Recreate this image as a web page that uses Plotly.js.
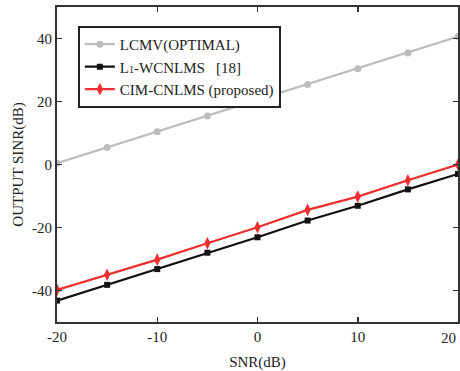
<!DOCTYPE html>
<html><head><meta charset="utf-8">
<script src="https://cdn.plot.ly/plotly-3.0.1.min.js"></script>
<style>body{margin:0;padding:0;background:#fff}#plot{width:460px;height:371px}</style>
</head><body><div id="plot"></div>
<script>
const snr = [-20, -15, -10, -5, 0, 5, 10, 15, 20];
const lcmv = [0.4, 5.4, 10.4, 15.4, 20.4, 25.4, 30.4, 35.4, 40.6];
const l1wcnlms = [-43.2, -38.2, -33.2, -28.0, -23.1, -17.8, -13.1, -7.9, -3.0];
const cimcnlms = [-39.8, -35.0, -30.2, -25.0, -19.9, -14.4, -10.2, -5.0, 0.0];
const names = ['LCMV(OPTIMAL)', 'L<span style="font-size:10px">1</span>-WCNLMS   [18]', 'CIM-CNLMS (proposed)'];
const xTicks = [-20, -10, 0, 10, 20];
const xTickText = ['-20', '-10', '0', '10', '20'];
const yTicks = [-40, -20, 0, 20, 40];
const yTickText = ['-40', '-20', '0', '20', '40'];

const traces = [
  {x: snr, y: lcmv, name: names[0], mode: 'lines+markers',
   line: {color: '#bdbdbd', width: 2.2}, marker: {symbol: 'circle', size: 7, color: '#bdbdbd'}},
  {x: snr, y: l1wcnlms, name: names[1], mode: 'lines+markers',
   line: {color: '#111111', width: 2.2}, marker: {symbol: 'square', size: 6, color: '#111111'}},
  {x: snr, y: cimcnlms, name: names[2], mode: 'lines+markers',
   line: {color: '#ee2f2f', width: 2.2}, marker: {symbol: 'diamond-tall', size: 9, color: '#ee2f2f'}}
];

// last x tick label is placed right-aligned at the axis end so it stays inside the figure
const shownTickText = xTickText.map((t, i) => i === xTickText.length - 1 ? '' : t);
const lastIdx = xTicks.length - 1;

const font = {family: '"Liberation Serif", "Times New Roman", serif', color: '#222', size: 15};
const layout = {
  width: 460, height: 371,
  margin: {l: 57, r: 2, t: 7, b: 49},
  paper_bgcolor: '#fff', plot_bgcolor: '#fff',
  font: font,
  showlegend: true,
  legend: {x: 0.052, y: 0.94, xanchor: 'left', yanchor: 'top',
    bgcolor: '#fff', bordercolor: '#222', borderwidth: 2,
    font: {family: font.family, size: 15, color: '#222'},
    tracegroupgap: 0, itemwidth: 30},
  xaxis: {range: [-20, 20], tickvals: xTicks, ticktext: shownTickText, ticks: 'inside', ticklen: 5, tickwidth: 1.5,
    tickcolor: '#333', showline: true, linecolor: '#333', linewidth: 2, mirror: 'ticks',
    showgrid: false, zeroline: false, tickfont: {size: 15},
    title: {text: 'SNR(dB)', font: {size: 15}, standoff: 15}},
  yaxis: {range: [-50, 50], tickvals: yTicks, ticktext: yTickText, ticks: 'inside', ticklen: 5, tickwidth: 1.5,
    tickcolor: '#333', showline: true, linecolor: '#333', linewidth: 2, mirror: 'ticks',
    showgrid: false, zeroline: false, tickfont: {size: 15},
    title: {text: 'OUTPUT SINR(dB)', font: {size: 15}, standoff: 5}},
  annotations: [{x: xTicks[lastIdx], xref: 'x', y: 0, yref: 'paper', yshift: -16,
    text: xTickText[lastIdx], showarrow: false, xanchor: 'right', yanchor: 'middle',
    font: {size: 15, color: '#222'}}]
};
Plotly.newPlot('plot', traces, layout, {displayModeBar: false, staticPlot: true});
</script></body></html>
